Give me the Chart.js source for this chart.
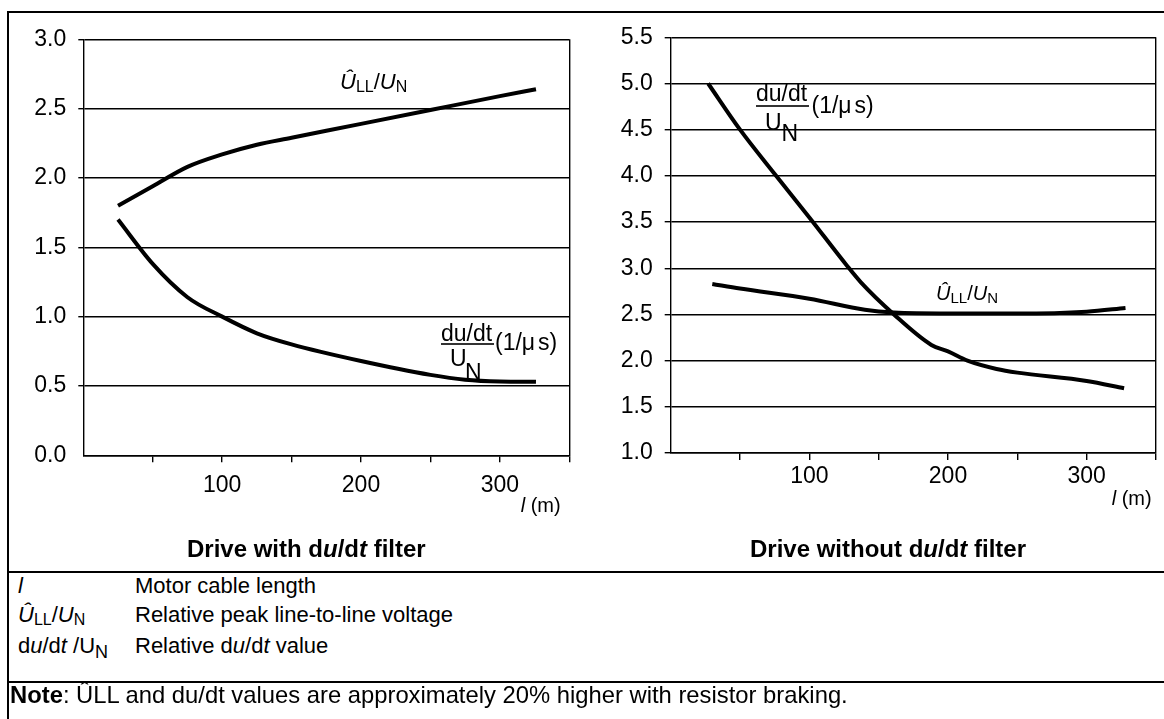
<!DOCTYPE html>
<html><head><meta charset="utf-8">
<script src="https://cdn.jsdelivr.net/npm/chart.js@4.4.0/dist/chart.umd.min.js"></script>
<style>
html,body{margin:0;padding:0;background:#fff;}
#page{position:relative;width:1164px;height:719px;overflow:hidden;background:#fff;font-family:'Liberation Sans',Arial,Helvetica,sans-serif;color:#000;}
canvas{position:absolute;top:0;}
.t{position:absolute;white-space:nowrap;line-height:1;}
.hl{position:absolute;background:#000;}
.i{font-style:italic;}
.sb{position:relative;}
.mu{margin-right:3px;}
</style></head>
<body><div id="page">
<canvas id="c1" width="600" height="540" style="left:0px;width:600px;height:540px"></canvas>
<canvas id="c2" width="584" height="540" style="left:580px;width:584px;height:540px"></canvas>
</div>
<script>
// ---- data ----
const cableLengthTicks = [0, 50, 100, 150, 200, 250, 300, 350];
const labelledLengths = [100, 200, 300];

// Drive with du/dt filter
const lenUllWith = [25, 50, 75, 100, 125, 150, 200, 250, 300, 326];
const ullWith    = [1.80, 1.94, 2.08, 2.17, 2.24, 2.29, 2.39, 2.49, 2.59, 2.64];
const lenDudtWith = [25, 50, 75, 100, 125, 150, 200, 250, 275, 300, 326];
const dudtWith    = [1.70, 1.38, 1.14, 1.00, 0.88, 0.80, 0.68, 0.58, 0.545, 0.532, 0.53];

// Drive without du/dt filter
const lenUllWithout = [30, 50, 100, 140, 161, 200, 250, 300, 328];
const ullWithout    = [2.83, 2.78, 2.67, 2.55, 2.52, 2.51, 2.51, 2.53, 2.57];
const lenDudtWithout = [27, 50, 75, 100, 127, 137, 161, 188, 200, 214, 235, 250, 300, 327];
const dudtWithout    = [5.0, 4.5, 4.02, 3.55, 3.03, 2.85, 2.5, 2.17, 2.10, 2.0, 1.91, 1.87, 1.78, 1.70];

const yTicksWith = [0, 0.5, 1, 1.5, 2, 2.5, 3];
const yTicksWithout = [1, 1.5, 2, 2.5, 3, 3.5, 4, 4.5, 5, 5.5];

// ---- helpers ----
const FONT = "'Liberation Sans', Arial, Helvetica, sans-serif";
const page = document.getElementById('page');
function txt(html, x, baseline, size, extra) {
  const d = document.createElement('div');
  d.className = 't';
  d.style.left = x + 'px';
  d.style.top = (baseline - 0.8465 * size) + 'px';
  d.style.fontSize = size + 'px';
  if (extra) d.style.cssText += extra;
  d.innerHTML = html;
  page.appendChild(d);
}
function rule(x, y, w, h, color) {
  const d = document.createElement('div');
  d.className = 'hl';
  d.style.left = x + 'px'; d.style.top = y + 'px';
  d.style.width = w + 'px'; d.style.height = h + 'px';
  if (color) d.style.background = color;
  page.appendChild(d);
}
const pts = (xs, ys) => xs.map((x, i) => ({x: x, y: ys[i]}));
const line = (xs, ys) => ({data: pts(xs, ys), borderColor: '#000', borderWidth: 4, pointRadius: 0,
  cubicInterpolationMode: 'monotone', fill: false});

// area: absolute page coordinates of the plot area
function makeChart(id, canvasLeft, canvasW, canvasH, area, yMin, yMax, yTicks, datasets, yTickLen, xPad) {
  const black = '#000', none = 'rgba(0,0,0,0)';
  return new Chart(document.getElementById(id), {
    type: 'line',
    data: {datasets: datasets},
    options: {
      responsive: false, animation: false, events: [],
      layout: {padding: {left: 0, top: area.top, right: canvasW - (area.right - canvasLeft), bottom: 0}},
      plugins: {legend: {display: false}, tooltip: {enabled: false}},
      scales: {
        x: {
          type: 'linear', min: 0, max: 350,
          afterBuildTicks: s => { s.ticks = cableLengthTicks.map(v => ({value: v})); },
          afterFit: s => { s.height = canvasH - area.bottom; },
          ticks: {autoSkip: false, maxRotation: 0, padding: xPad, color: black,
            font: {family: FONT, size: 23},
            callback: v => labelledLengths.includes(v) ? String(v) : ''},
          grid: {drawOnChartArea: true, drawTicks: true, tickLength: 7, lineWidth: 1.4,
            color: c => (c.tick && c.tick.value === 350) ? black : none,
            tickColor: c => (c.tick && c.tick.value === 0) ? none : black},
          border: {display: true, color: black, width: 1.4}
        },
        y: {
          type: 'linear', min: yMin, max: yMax,
          afterBuildTicks: s => { s.ticks = yTicks.map(v => ({value: v})); },
          afterFit: s => { s.width = area.left - canvasLeft; },
          ticks: {padding: 12, color: black, font: {family: FONT, size: 23},
            callback: v => v.toFixed(1)},
          grid: {drawOnChartArea: true, drawTicks: true, tickLength: yTickLen, lineWidth: 1.4,
            color: black,
            tickColor: c => (c.tick && c.tick.value === yMin && yMin === 0) ? none : black},
          border: {display: true, color: black, width: 1.4}
        }
      }
    }
  });
}

makeChart('c1', 0, 600, 540, {left: 83.3, top: 39.3, right: 569.3, bottom: 455.3},
  0, 3, yTicksWith, [line(lenUllWith, ullWith), line(lenDudtWith, dudtWith)], 5, 10);
makeChart('c2', 580, 584, 540, {left: 670.7, top: 37.3, right: 1156, bottom: 453},
  1, 5.5, yTicksWithout, [line(lenUllWithout, ullWithout), line(lenDudtWithout, dudtWithout)], 6, 3);

// ---- frame ----
rule(7, 11, 1157, 2);
rule(7, 11, 2, 708);
rule(7, 571, 1157, 2);
rule(7, 681, 1157, 2);

// ---- in-chart annotations ----
const sub = (s, size, dy) => `<span class="sb" style="font-size:${size}px;top:${dy}px">${s}</span>`;
txt(`<span class="i">Û</span>${sub('LL', 16, 3)}/<span class="i">U</span>${sub('N', 16, 3)}`, 340, 90, 22);
txt(`<span class="i">Û</span>${sub('LL', 15, 3)}/<span class="i">U</span>${sub('N', 15, 3)}`, 936, 299.5, 20);

// left du/dt label
txt('du/dt', 441, 341.5, 23);
rule(441, 343, 53, 1.5, '#333');
txt('U', 450, 366.5, 23);
txt('N', 465, 380, 23);
txt('(1/<span class="mu">μ</span>s)', 495, 350.5, 23);
// right du/dt label
txt('du/dt', 756, 101.5, 23);
rule(756, 105, 53, 1.5, '#333');
txt('U', 765, 130, 23);
txt('N', 781.5, 141.5, 23);
txt('(1/<span class="mu">μ</span>s)', 811.5, 113.5, 23);

// axis titles
txt('<span class="i">l</span> (m)', 520.7, 512.4, 20);
txt('<span class="i">l</span> (m)', 1111.7, 505.4, 20);

// chart titles
txt('Drive with d<span class="i">u</span>/d<span class="i">t</span> filter', 187, 557, 24, 'font-weight:bold;');
txt('Drive without d<span class="i">u</span>/d<span class="i">t</span> filter', 750, 557, 24, 'font-weight:bold;');

// ---- legend ----
txt('<span class="i">l</span>', 18, 593.5, 22);
txt('Motor cable length', 135, 593.5, 22);
txt(`<span class="i">Û</span>${sub('LL', 16, 3)}/<span class="i">U</span>${sub('N', 16, 3)}`, 18, 622.5, 22);
txt('Relative peak line-to-line voltage', 135, 622.5, 22);
txt(`d<span class="i">u</span>/d<span class="i">t</span> /U${sub('N', 18, 5)}`, 18, 654, 22);
txt('Relative d<span class="i">u</span>/d<span class="i">t</span> value', 135, 654, 22);

txt('<b>Note</b>: ÛLL and du/dt values are approximately 20% higher with resistor braking.', 10, 703.5, 23.8);
</script>
</body></html>
